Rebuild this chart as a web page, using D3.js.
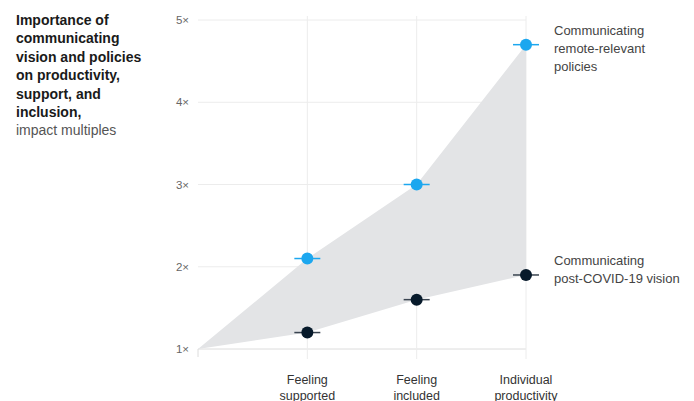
<!DOCTYPE html>
<html><head><meta charset="utf-8">
<script src="https://cdn.jsdelivr.net/npm/d3@7"></script>
<style>
html,body{margin:0;padding:0;background:#fff;}
svg{display:block;font-family:"Liberation Sans",Arial,sans-serif;}
</style></head>
<body>
<svg id="chart" width="694" height="401"></svg>
<script>
const categories = ["", "Feeling supported", "Feeling included", "Individual productivity"];
const policiesValues = [1, 2.1, 3.0, 4.7];
const visionValues = [1, 1.2, 1.6, 1.9];
const yTicks = [1, 2, 3, 4, 5];
const seriesLabels = [["Communicating", "remote-relevant", "policies"], ["Communicating", "post-COVID-19 vision"]];
const titleLines = ["Importance of", "communicating", "vision and policies", "on productivity,", "support, and", "inclusion,"];
const subtitle = "impact multiples";

const svg = d3.select("#chart");
const x = d3.scalePoint().domain(d3.range(categories.length)).range([198, 526]);
const y = d3.scaleLinear().domain([1, 5]).range([349, 20]);

// gridlines
svg.append("g").selectAll("line").data(yTicks).join("line")
  .attr("x1", 198).attr("x2", 526)
  .attr("y1", d => y(d)).attr("y2", d => y(d))
  .attr("stroke", d => d === 1 ? "#dcdcdc" : "#ececec").attr("stroke-width", 1);
svg.append("g").selectAll("line").data(d3.range(1, categories.length)).join("line")
  .attr("x1", d => x(d)).attr("x2", d => x(d))
  .attr("y1", y(5) - 4).attr("y2", y(1) + 10)
  .attr("stroke", "#ececec");
svg.append("line").attr("x1", 198).attr("x2", 198).attr("y1", y(1)).attr("y2", y(1) + 8).attr("stroke", "#dcdcdc");

// area between
const area = d3.area().x((d, i) => x(i)).y0((d, i) => y(visionValues[i])).y1(d => y(d));
svg.append("path").datum(policiesValues).attr("d", area).attr("fill", "#e3e4e6");

// y tick labels
svg.append("g").selectAll("text").data(yTicks).join("text")
  .attr("x", 189).attr("y", d => y(d) + 4).attr("text-anchor", "end")
  .attr("font-size", 11.5).attr("fill", "#666").text(d => d + "×");

// x labels
const xl = svg.append("g");
categories.forEach((c, i) => {
  if (!c) return;
  const words = c.split(" ");
  words.forEach((w, j) => {
    xl.append("text").attr("x", x(i)).attr("y", 384 + j * 16).attr("text-anchor", "middle")
      .attr("font-size", 12.5).attr("fill", "#333").text(w);
  });
});

// markers
function markers(vals, color, lineColor) {
  const g = svg.append("g");
  vals.forEach((v, i) => {
    if (i === 0) return;
    g.append("line").attr("x1", x(i) - 13).attr("x2", x(i) + 13)
      .attr("y1", y(v)).attr("y2", y(v)).attr("stroke", lineColor).attr("stroke-width", 1.5);
    g.append("circle").attr("cx", x(i)).attr("cy", y(v)).attr("r", 6).attr("fill", color);
  });
}
markers(policiesValues, "#1ca7ef", "#1ca7ef");
markers(visionValues, "#071a2b", "#3a4450");

// series labels
const last = categories.length - 1;
[[policiesValues, seriesLabels[0]], [visionValues, seriesLabels[1]]].forEach(([vals, lines]) => {
  const yy = y(vals[last]) - 10;
  lines.forEach((l, j) => {
    svg.append("text").attr("x", 554).attr("y", yy + j * 18).attr("font-size", 13)
      .attr("fill", "#444").text(l);
  });
});

// title
titleLines.forEach((t, i) => {
  svg.append("text").attr("x", 16).attr("y", 25 + i * 18.4).attr("font-size", 14)
    .attr("font-weight", "bold").attr("fill", "#1a1a1a").text(t);
});
svg.append("text").attr("x", 16).attr("y", 25 + 6 * 18.4).attr("font-size", 14)
  .attr("fill", "#555").text(subtitle);
</script>
</body></html>
